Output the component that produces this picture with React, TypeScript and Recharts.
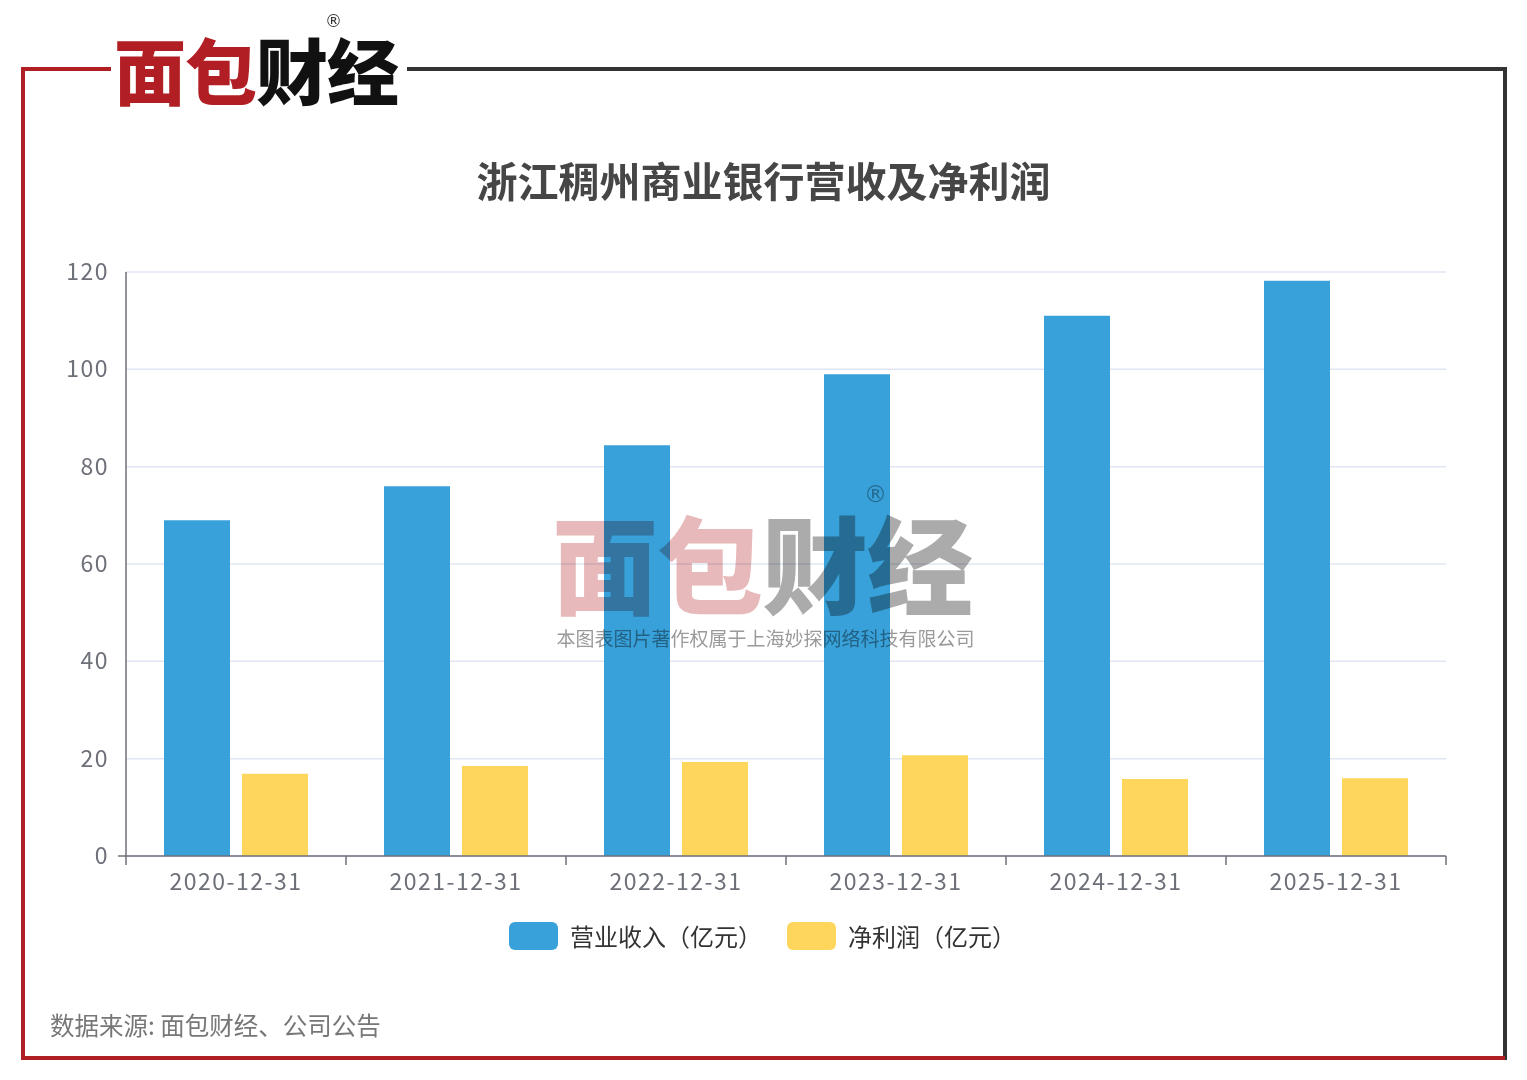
import React from 'react';
import {
  BarChart,
  Bar,
  XAxis,
  YAxis,
  CartesianGrid,
  Legend,
} from 'recharts';

const categories = ['2020-12-31', '2021-12-31', '2022-12-31', '2023-12-31', '2024-12-31', '2025-12-31'];
const revenue = [69.0, 76.0, 84.4, 99.0, 111.0, 118.2];
const netProfit = [16.9, 18.5, 19.3, 20.7, 15.8, 16.0];
const yTicks = [0, 20, 40, 60, 80, 100, 120];

const seriesNames = ['营业收入（亿元）', '净利润（亿元）'];
const seriesColors = ['#38A1DA', '#FED65C'];

const data = categories.map((date, i) => ({
  date,
  revenue: revenue[i],
  profit: netProfit[i],
}));

const W = 1527;
const H = 1080;
const MARGIN = { top: 272, right: 81, bottom: 184, left: 26 };
const Y_AXIS_W = 100;
const HALF_BAND = (W - MARGIN.left - MARGIN.right - Y_AXIS_W) / categories.length / 2;

const FONT = '"Noto Sans CJK SC", "Noto Sans", sans-serif';
const AXIS_COLOR = '#6E7079';

const XTick = (props: any) => {
  const { x, y, payload, index } = props;
  const last = index === categories.length - 1;
  return (
    <g>
      <line x1={x - HALF_BAND} y1={y} x2={x - HALF_BAND} y2={y + 9} stroke={AXIS_COLOR} strokeWidth={1.5} />
      {last && (
        <line x1={x + HALF_BAND} y1={y} x2={x + HALF_BAND} y2={y + 9} stroke={AXIS_COLOR} strokeWidth={1.5} />
      )}
      <text
        x={x}
        y={y + 34}
        textAnchor="middle"
        fill={AXIS_COLOR}
        fontSize={23}
        letterSpacing={1.5}
        fontFamily={FONT}
      >
        {payload.value}
      </text>
    </g>
  );
};

const YTick = (props: any) => {
  const { x, y, payload } = props;
  return (
    <g>
      {payload.value === 0 && (
        <line x1={x + 10} y1={y} x2={x + 18} y2={y} stroke={AXIS_COLOR} strokeWidth={1.5} />
      )}
      <text
        x={x + 1}
        y={y}
        dy="0.35em"
        textAnchor="end"
        fill={AXIS_COLOR}
        fontSize={23}
        letterSpacing={1.5}
        fontFamily={FONT}
      >
        {payload.value}
      </text>
    </g>
  );
};

const renderLegend = (props: any) => {
  const payload = [...(props.payload || [])].sort(
    (a: any, b: any) => seriesNames.indexOf(a.value) - seriesNames.indexOf(b.value)
  );
  return (
    <div style={{ display: 'flex', alignItems: 'center', fontFamily: FONT }}>
      {payload.map((entry: any) => (
        <div key={entry.value} style={{ display: 'flex', alignItems: 'center', marginRight: 25 }}>
          <span
            style={{
              display: 'inline-block',
              width: 49,
              height: 28,
              borderRadius: 6,
              background: entry.color,
              marginRight: 12,
            }}
          />
          <span style={{ fontSize: 24, color: '#333', lineHeight: '28px' }}>{entry.value}</span>
        </div>
      ))}
    </div>
  );
};

const line = (style: React.CSSProperties) => (
  <div style={{ position: 'absolute', ...style }} />
);

const REG_FONT = '"DejaVu Sans", sans-serif';

export default function App() {
  return (
    <div style={{ position: 'absolute', left: 0, top: 0, width: W, height: H, background: '#fff', fontFamily: FONT }}>
      {/* frame */}
      {line({ left: 21, top: 67, width: 90, height: 4, background: '#B11F24' })}
      {line({ left: 407, top: 67, width: 1100, height: 4, background: '#333' })}
      {line({ left: 1503, top: 67, width: 4, height: 993, background: '#333' })}
      {line({ left: 21, top: 67, width: 4, height: 993, background: '#B11F24' })}
      {line({ left: 21, top: 1056, width: 1484, height: 4, background: '#B11F24' })}

      {/* logo */}
      <div
        style={{
          position: 'absolute',
          left: 114,
          top: 32,
          fontSize: 72,
          fontWeight: 900,
          lineHeight: '72px',
          letterSpacing: -1,
          whiteSpace: 'nowrap',
        }}
      >
        <span style={{ color: '#B11F24' }}>面包</span>
        <span style={{ color: '#111' }}>财经</span>
      </div>
      <div
        style={{
          position: 'absolute',
          left: 325,
          top: 11,
          fontSize: 17,
          lineHeight: '20px',
          color: '#333',
          fontFamily: REG_FONT,
        }}
      >
        ®
      </div>

      {/* title */}
      <div
        style={{
          position: 'absolute',
          left: 0,
          top: 153,
          width: W,
          textAlign: 'center',
          fontSize: 41,
          fontWeight: 700,
          color: '#464646',
          lineHeight: '52px',
        }}
      >
        浙江稠州商业银行营收及净利润
      </div>

      <div style={{ position: 'absolute', left: 0, top: 0 }}>
        <BarChart width={W} height={H} data={data} margin={MARGIN} barGap={12} barSize={66}>
          <CartesianGrid vertical={false} stroke="#E0E6F1" strokeWidth={1.5} />
          <XAxis
            dataKey="date"
            height={40}
            tickLine={false}
            tickSize={0}
            tickMargin={0}
            axisLine={{ stroke: AXIS_COLOR, strokeWidth: 1.5 }}
            tick={<XTick />}
            interval={0}
          />
          <YAxis
            width={Y_AXIS_W}
            domain={[0, 120]}
            ticks={yTicks}
            tickLine={false}
            tickSize={0}
            tickMargin={18}
            axisLine={{ stroke: AXIS_COLOR, strokeWidth: 1.5 }}
            tick={<YTick />}
          />
          <Legend
            verticalAlign="middle"
            content={renderLegend}
            wrapperStyle={{ top: 922, left: 509, width: 700 }}
          />
          <Bar dataKey="revenue" name={seriesNames[0]} fill={seriesColors[0]} isAnimationActive={false} />
          <Bar dataKey="profit" name={seriesNames[1]} fill={seriesColors[1]} isAnimationActive={false} />
        </BarChart>
      </div>

      {/* watermark */}
      <div
        style={{
          position: 'absolute',
          left: 552,
          top: 507,
          fontSize: 106,
          fontWeight: 900,
          lineHeight: '106px',
          letterSpacing: -1,
          whiteSpace: 'nowrap',
          mixBlendMode: 'multiply',
          pointerEvents: 'none',
        }}
      >
        <span style={{ color: '#E8B9BB' }}>面包</span>
        <span style={{ color: '#ABABAB' }}>财经</span>
      </div>
      <div
        style={{
          position: 'absolute',
          left: 864,
          top: 482,
          fontSize: 23,
          lineHeight: '24px',
          color: '#A8A8A8',
          fontFamily: REG_FONT,
          mixBlendMode: 'multiply',
          pointerEvents: 'none',
        }}
      >
        ®
      </div>
      <div
        style={{
          position: 'absolute',
          left: 0,
          top: 627,
          width: W,
          paddingLeft: 2,
          textAlign: 'center',
          fontSize: 19,
          color: '#9A9A9A',
          lineHeight: '22px',
          mixBlendMode: 'multiply',
          pointerEvents: 'none',
        }}
      >
        本图表图片著作权属于上海妙探网络科技有限公司
      </div>

      {/* source */}
      <div style={{ position: 'absolute', left: 50, top: 1008, fontSize: 24.5, color: '#777', lineHeight: '34px' }}>
        数据来源: 面包财经、公司公告
      </div>
    </div>
  );
}
